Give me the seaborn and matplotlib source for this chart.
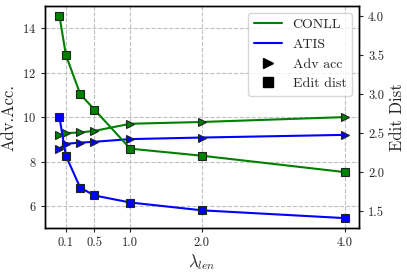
import numpy as np
import pandas as pd
import seaborn as sns
import matplotlib
matplotlib.use("Agg")
import matplotlib.pyplot as plt
from matplotlib.lines import Line2D

# lambda_len values and readings from the chart
lam = [0.01, 0.1, 0.3, 0.5, 1.0, 2.0, 4.0]
xticks = [0.1, 0.5, 1.0, 2.0, 4.0]

conll_adv = [9.20, 9.28, 9.31, 9.38, 9.70, 9.78, 10.0]
atis_adv = [8.58, 8.80, 8.85, 8.89, 9.01, 9.08, 9.20]

conll_edit = [4.00, 3.50, 3.00, 2.80, 2.30, 2.21, 2.00]
atis_edit = [2.70, 2.21, 1.80, 1.70, 1.61, 1.51, 1.41]

edit_ticks = [1.5, 2.0, 2.5, 3.0, 3.5, 4.0]

sns.set_style("ticks")
plt.rcParams['font.family'] = ['cmr10', 'DejaVu Serif']
plt.rcParams['mathtext.fontset'] = 'cm'
plt.rcParams['axes.formatter.use_mathtext'] = True

fig, ax = plt.subplots(figsize=(4.07, 2.72), dpi=100)
fig.subplots_adjust(left=0.111, right=0.882, top=0.978, bottom=0.161)
ax2 = ax.twinx()

mk = dict(markersize=6, markeredgecolor='#222222', markeredgewidth=0.8, linewidth=1.5)

sns.lineplot(x=lam, y=conll_adv, ax=ax, color='green', marker='>', **mk)
sns.lineplot(x=lam, y=atis_adv, ax=ax, color='blue', marker='>', **mk)
sns.lineplot(x=lam, y=conll_edit, ax=ax2, color='green', marker='s', **mk)
sns.lineplot(x=lam, y=atis_edit, ax=ax2, color='blue', marker='s', **mk)

ax.set_ylim(5, 15)
ax.set_yticks([6, 8, 10, 12, 14])
ax.set_xticks(xticks)
ax.set_xticklabels([f"{t:.1f}" for t in xticks])
ax.set_xlim(-0.19, 4.2)
ax2.set_yticks(edit_ticks)
ax2.set_yticklabels([f"{t:.1f}" for t in edit_ticks])

ax.grid(True, linestyle='--', color='#c0c0c0', linewidth=0.8)
ax.set_axisbelow(True)

ax.set_xlabel(r'$\lambda_{len}$', fontsize=12, labelpad=2)
ax.set_ylabel('Adv.Acc.', fontsize=12)
ax2.set_ylabel('Edit Dist', fontsize=12)
for a in (ax, ax2):
    a.tick_params(labelsize=9, length=3)
    for s in a.spines.values():
        s.set_linewidth(1.0)
        s.set_color('black')

handles = [
    Line2D([], [], color='green', linewidth=1.5),
    Line2D([], [], color='blue', linewidth=1.5),
    Line2D([], [], color='black', marker='>', linestyle='none', markersize=7),
    Line2D([], [], color='black', marker='s', linestyle='none', markersize=7),
]
ax2.legend(handles, ['CONLL', 'ATIS', 'Adv acc', 'Edit dist'], loc='upper right',
           fontsize=10, frameon=True, handlelength=2, borderaxespad=0.5)

fig.savefig("out.png", dpi=100)
